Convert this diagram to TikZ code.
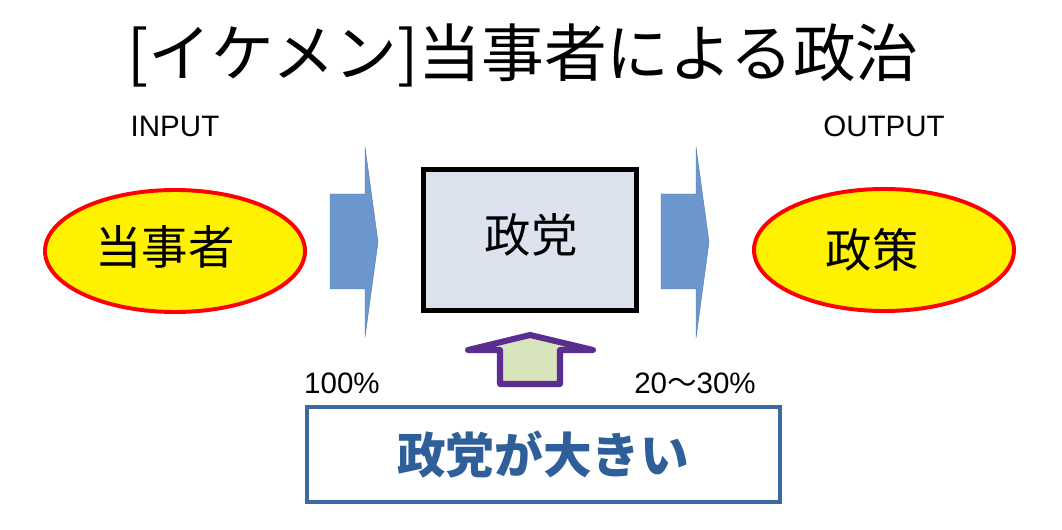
\documentclass[tikz,border=0pt]{standalone}
\usepackage{fontspec}
\setmainfont{Liberation Sans}
\newfontfamily\cjk{Noto Sans CJK JP}
\usepackage{tikz}
\usetikzlibrary{shapes.geometric}

\definecolor{arrowblue}{RGB}{108,150,206}
\definecolor{boxgrey}{RGB}{220,227,238}
\definecolor{housepurple}{RGB}{92,45,145}
\definecolor{housegreen}{RGB}{216,228,188}
\definecolor{textblue}{RGB}{46,95,153}
\definecolor{frameblue}{RGB}{58,106,160}

\begin{document}
\begin{tikzpicture}[x=0.025cm, y=-0.025cm,
  actor/.style={ellipse, draw=red, line width=2.8pt, fill=yellow, minimum width=260*0.025cm, minimum height=122*0.025cm},
  bigjp/.style={font=\cjk\fontsize{33}{35}\selectfont},
  label/.style={font=\fontsize{21}{23}\selectfont},
  flow/.style={fill=arrowblue, draw=arrowblue!80!black, line width=0.3pt},
  party/.style={draw=black, line width=3pt, fill=boxgrey, minimum width=213*0.025cm, minimum height=141*0.025cm}
  ]
 \useasboundingbox (0,0) rectangle (1062,530);
 \node (title) at (523,55) {\cjk\fontsize{44.6}{48}\selectfont [イケメン]当事者による政治};
 \node[label] (in) at (175,126) {INPUT};
 \node[label] (out) at (884,126) {OUTPUT};
 \node[actor] (src) at (175,251) {};
 \node[bigjp] (srctxt) at (165,247) {当事者};
 \node[actor] (dst) at (884,250) {};
 \node[bigjp] (dsttxt) at (872,250) {政策};
 \node[party] (p) at (530,240) {};
 \node[bigjp] (ptxt) at (531,235) {政党};
 % arrows in and out
 \draw[flow] (330,194) -- (365,194) -- (365,147) -- (378,242) -- (365,337) -- (365,289) -- (330,289) -- cycle;
 \draw[flow] (661,194) -- (696,194) -- (696,147) -- (709,242) -- (696,338) -- (696,289) -- (661,289) -- cycle;
 % house arrow
 \draw[housepurple, line width=4.3pt, fill=housegreen, line join=round]
  (500,384) -- (500,350) -- (468,350) -- (530,335) -- (593,350) -- (560,350) -- (560,384) -- cycle;
 \node[label] (pin) at (342,383) {100\%};
 \node[label] (pout) at (695,383) {20{\cjk 〜}30\%};
 \node[draw=frameblue, line width=2.4pt, minimum width=473*0.025cm, minimum height=95*0.025cm] (big) at (543.5,454.5) {};
 \node[text=textblue, font=\cjk\bfseries\fontsize{34.6}{38}\selectfont] (bigtxt) at (543,455) {政党が大きい};
\end{tikzpicture}
\end{document}
